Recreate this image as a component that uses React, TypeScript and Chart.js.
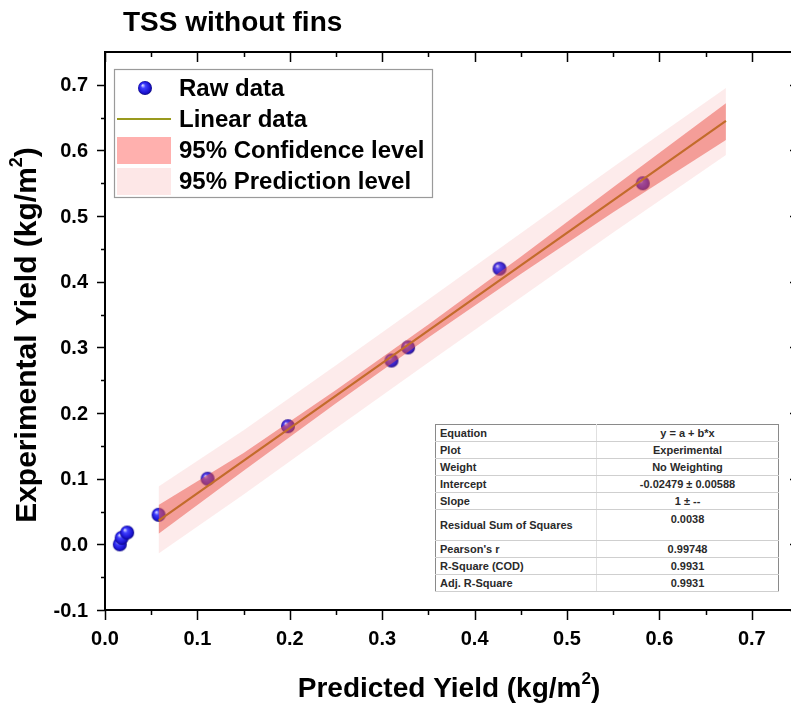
import React, { useEffect, useRef } from 'react';
import { Chart, registerables } from 'chart.js';
Chart.register(...registerables);

// ---- data ----
const rawX = [0.016, 0.018, 0.024, 0.058, 0.111, 0.198, 0.310, 0.328, 0.427, 0.582];
const rawY = [0.000, 0.010, 0.018, 0.045, 0.100, 0.180, 0.280, 0.300, 0.420, 0.550];
const fitX = [0.058, 0.672];
const fitY = [0.036, 0.645];
const bandX = [0.058, 0.15, 0.25, 0.35, 0.45, 0.55, 0.672];
const confUpper = [0.060, 0.139, 0.235, 0.335, 0.438, 0.544, 0.672];
const confLower = [0.016, 0.112, 0.215, 0.315, 0.412, 0.506, 0.616];
const predUpper = [0.088, 0.174, 0.273, 0.373, 0.474, 0.575, 0.695];
const predLower = [-0.014, 0.076, 0.177, 0.277, 0.376, 0.475, 0.593];
const xMajor = [0, 0.1, 0.2, 0.3, 0.4, 0.5, 0.6, 0.7];
const xLabels = ['0.0', '0.1', '0.2', '0.3', '0.4', '0.5', '0.6', '0.7'];
const xMinor = [0.05, 0.15, 0.25, 0.35, 0.45, 0.55, 0.65, 0.75];
const yMajor = [-0.1, 0, 0.1, 0.2, 0.3, 0.4, 0.5, 0.6, 0.7];
const yLabels = ['-0.1', '0.0', '0.1', '0.2', '0.3', '0.4', '0.5', '0.6', '0.7'];
const yMinor = [-0.05, 0.05, 0.15, 0.25, 0.35, 0.45, 0.55, 0.65];
const legendLabels = ['Raw data', 'Linear data', '95% Confidence level', '95% Prediction level'];
const tableRows: [string, string][] = [
  ['Equation', 'y = a + b*x'],
  ['Plot', 'Experimental'],
  ['Weight', 'No Weighting'],
  ['Intercept', '-0.02479 \u00b1 0.00588'],
  ['Slope', '1 \u00b1 --'],
  ['Residual Sum of Squares', '0.0038'],
  ["Pearson's r", '0.99748'],
  ['R-Square (COD)', '0.9931'],
  ['Adj. R-Square', '0.9931'],
];

const CW = 810;
const CH = 707;
const FONT = 'Arial, "Liberation Sans", sans-serif';

function makeBall(r: number) {
  const c = document.createElement('canvas');
  c.width = c.height = 2 * r + 2;
  const g = c.getContext('2d')!;
  const cx = r + 1;
  const grad = g.createRadialGradient(cx - r * 0.35, cx - r * 0.4, r * 0.05, cx, cx, r);
  grad.addColorStop(0, '#d8d8ff');
  grad.addColorStop(0.3, '#4040ff');
  grad.addColorStop(0.8, '#1a12d0');
  grad.addColorStop(1, '#0c0880');
  g.fillStyle = grad;
  g.beginPath();
  g.arc(cx, cx, r, 0, Math.PI * 2);
  g.fill();
  return c;
}

function drawSup(ctx: CanvasRenderingContext2D, main: string, sup: string, tail: string, size: number, cx: number, cy: number) {
  ctx.font = `bold ${size}px ${FONT}`;
  const w1 = ctx.measureText(main).width;
  const w3 = ctx.measureText(tail).width;
  ctx.font = `bold ${Math.round(size * 0.6)}px ${FONT}`;
  const w2 = ctx.measureText(sup).width;
  const total = w1 + w2 + w3;
  let x = cx - total / 2;
  ctx.textAlign = 'left';
  ctx.textBaseline = 'middle';
  ctx.font = `bold ${size}px ${FONT}`;
  ctx.fillText(main, x, cy);
  x += w1;
  ctx.font = `bold ${Math.round(size * 0.6)}px ${FONT}`;
  ctx.fillText(sup, x, cy - size * 0.35);
  x += w2;
  ctx.font = `bold ${size}px ${FONT}`;
  ctx.fillText(tail, x, cy);
}

export default function App() {
  const ref = useRef<HTMLCanvasElement>(null);
  useEffect(() => {
    const ball = makeBall(7);
    const deco = {
      id: 'deco',
      afterDatasetsDraw(chart: any) {
        const ctx: CanvasRenderingContext2D = chart.ctx;
        const xs = chart.scales.x;
        const ys = chart.scales.y;
        const L = xs.left, R = xs.right, T = ys.top, B = ys.bottom;
        ctx.save();
        ctx.strokeStyle = '#000';
        ctx.fillStyle = '#000';
        ctx.lineWidth = 2;
        ctx.strokeRect(L, T, R - L, B - T);
        ctx.lineWidth = 1.5;
        ctx.beginPath();
        xMajor.forEach((v) => {
          const p = Math.round(xs.getPixelForValue(v)) + 0.5;
          ctx.moveTo(p, B); ctx.lineTo(p, B + 10);
          ctx.moveTo(p, T); ctx.lineTo(p, T + 10);
        });
        xMinor.forEach((v) => {
          const p = Math.round(xs.getPixelForValue(v)) + 0.5;
          ctx.moveTo(p, B); ctx.lineTo(p, B + 5);
          ctx.moveTo(p, T); ctx.lineTo(p, T + 5);
        });
        yMajor.forEach((v) => {
          const p = Math.round(ys.getPixelForValue(v)) + 0.5;
          ctx.moveTo(L, p); ctx.lineTo(L - 8, p);
          ctx.moveTo(R, p); ctx.lineTo(R - 8, p);
        });
        yMinor.forEach((v) => {
          const p = Math.round(ys.getPixelForValue(v)) + 0.5;
          ctx.moveTo(L, p); ctx.lineTo(L - 4, p);
          ctx.moveTo(R, p); ctx.lineTo(R - 4, p);
        });
        ctx.stroke();
        // tick labels
        ctx.font = `bold 20px ${FONT}`;
        ctx.textAlign = 'center';
        ctx.textBaseline = 'top';
        xMajor.forEach((v, i) => ctx.fillText(xLabels[i], xs.getPixelForValue(v), B + 19));
        ctx.textAlign = 'right';
        ctx.textBaseline = 'middle';
        yMajor.forEach((v, i) => ctx.fillText(yLabels[i], L - 17, ys.getPixelForValue(v) + 1));
        // titles
        ctx.font = `bold 28px ${FONT}`;
        ctx.textAlign = 'left';
        ctx.fillText('TSS without fins', 123, 23);
        drawSup(ctx, 'Predicted Yield (kg/m', '2', ')', 28, 449, 689);
        ctx.save();
        ctx.translate(28, (T + B) / 2 + 4);
        ctx.rotate(-Math.PI / 2);
        drawSup(ctx, 'Experimental Yield (kg/m', '2', ')', 30, 0, 0);
        ctx.restore();
        // legend
        const lx = 114, ly = 69, lw = 318, lh = 128;
        ctx.fillStyle = '#fff';
        ctx.fillRect(lx, ly, lw, lh);
        ctx.strokeStyle = '#9a9a9a';
        ctx.lineWidth = 1.2;
        ctx.strokeRect(lx + 0.5, ly + 0.5, lw, lh);
        const rowsY = [88, 119, 150, 181];
        ctx.drawImage(ball, 145 - 8, rowsY[0] - 8);
        ctx.strokeStyle = '#999a1e';
        ctx.lineWidth = 2;
        ctx.beginPath();
        ctx.moveTo(117, rowsY[1]); ctx.lineTo(171, rowsY[1]);
        ctx.stroke();
        ctx.fillStyle = '#ffb0ae';
        ctx.fillRect(117, rowsY[2] - 13, 54, 27);
        ctx.fillStyle = '#fde7e7';
        ctx.fillRect(117, rowsY[3] - 13, 54, 27);
        ctx.fillStyle = '#000';
        ctx.font = `bold 24px ${FONT}`;
        ctx.textAlign = 'left';
        ctx.textBaseline = 'middle';
        legendLabels.forEach((t, i) => ctx.fillText(t, 179, rowsY[i] + 1));
        ctx.restore();
      },
    };

    const chart = new Chart(ref.current!, {
      type: 'scatter',
      data: {
        datasets: [
          {
            type: 'line', label: 'confU', data: bandX.map((x, i) => ({ x, y: confUpper[i] })),
            fill: '+1', backgroundColor: 'rgba(236,80,70,0.5)', borderColor: 'transparent', borderWidth: 0, pointRadius: 0, order: 1,
          } as any,
          {
            type: 'line', label: 'confL', data: bandX.map((x, i) => ({ x, y: confLower[i] })),
            fill: false, borderColor: 'transparent', borderWidth: 0, pointRadius: 0, order: 1,
          } as any,
          {
            type: 'line', label: 'predU', data: bandX.map((x, i) => ({ x, y: predUpper[i] })),
            fill: '+1', backgroundColor: 'rgba(240,110,110,0.14)', borderColor: 'transparent', borderWidth: 0, pointRadius: 0, order: 2,
          } as any,
          {
            type: 'line', label: 'predL', data: bandX.map((x, i) => ({ x, y: predLower[i] })),
            fill: false, borderColor: 'transparent', borderWidth: 0, pointRadius: 0, order: 2,
          } as any,
          {
            type: 'line', label: 'fit', data: fitX.map((x, i) => ({ x, y: fitY[i] })),
            fill: false, borderColor: '#8c8a00', borderWidth: 2.2, pointRadius: 0, order: 3,
          } as any,
          {
            type: 'scatter', label: 'raw', data: rawX.map((x, i) => ({ x, y: rawY[i] })),
            pointStyle: ball, pointRadius: 7, order: 4,
          } as any,
        ],
      },
      options: {
        animation: false,
        responsive: false,
        devicePixelRatio: 1,
        layout: { padding: { left: 105, top: 52, right: CW - 798, bottom: CH - 610 } },
        plugins: { legend: { display: false }, tooltip: { enabled: false } },
        scales: {
          x: { type: 'linear', min: 0, max: 0.75, display: false },
          y: { type: 'linear', min: -0.1, max: 0.75, display: false },
        },
      },
      plugins: [deco],
    });
    return () => chart.destroy();
  }, []);

  const rowH = [17, 17, 17, 17, 17, 31, 17, 17, 17];
  return (
    <div style={{ position: 'absolute', left: 0, top: 0, width: 791, height: 707, overflow: 'hidden', background: '#fff' }}>
      <canvas ref={ref} width={CW} height={CH} style={{ width: CW, height: CH, display: 'block' }} />
      <table
        style={{
          position: 'absolute', left: 435, top: 424, width: 343, borderCollapse: 'collapse',
          fontFamily: FONT, fontWeight: 'bold', fontSize: 11, color: '#2a2a2a', background: '#fff',
          border: '1.5px solid #8a8a8a', tableLayout: 'fixed',
        }}
      >
        <colgroup>
          <col style={{ width: 161 }} />
          <col style={{ width: 182 }} />
        </colgroup>
        <tbody>
          {tableRows.map((r, i) => (
            <tr key={i} style={{ height: rowH[i] }}>
              <td style={{ borderBottom: '1px solid #cfcfcf', borderRight: '1px solid #e0e0e0', padding: '0 4px', verticalAlign: 'middle', lineHeight: '12px' }}>{r[0]}</td>
              <td style={{ borderBottom: '1px solid #cfcfcf', padding: '0 4px', textAlign: 'center', verticalAlign: i === 5 ? 'top' : 'middle', lineHeight: '12px', paddingTop: i === 5 ? 3 : 0 }}>{r[1]}</td>
            </tr>
          ))}
        </tbody>
      </table>
    </div>
  );
}
